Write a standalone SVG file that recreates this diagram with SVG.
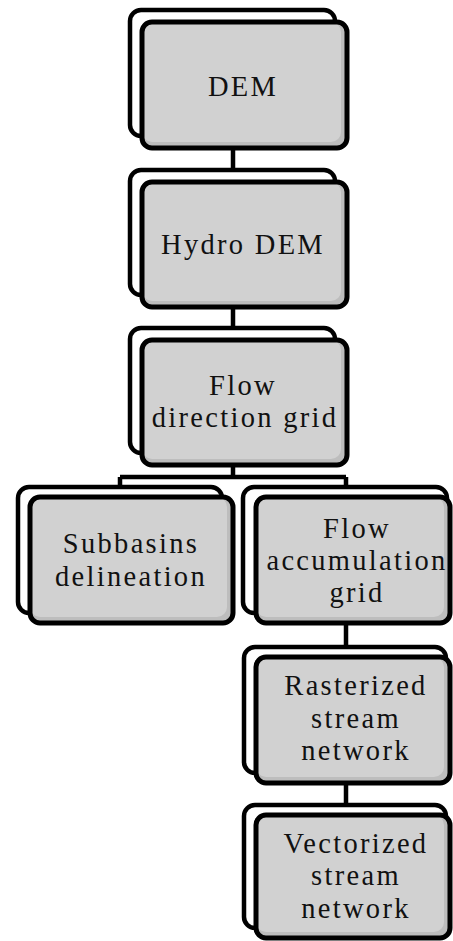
<svg xmlns="http://www.w3.org/2000/svg" width="453" height="941" viewBox="0 0 453 941">
  <style>
    .back { fill: #ffffff; stroke: #000000; stroke-width: 4.5; }
    .shade { fill: #bdbdbd; stroke: none; }
    .face { fill: #d1d1d1; stroke: none; }
    .frame { fill: none; stroke: #000000; stroke-width: 5; }
    .link { fill: none; stroke: #000000; stroke-width: 4.5; }
    text { font-family: "Liberation Serif", "Times New Roman", serif; font-size: 28.5px; fill: #111111; letter-spacing: 2.3px; text-anchor: middle; }
  </style>
  <rect width="453" height="941" fill="#ffffff"/>

  <g id="connectors">
    <path class="link" d="M233,148 V170 M233,307 V328 M233,465 V477 M120,477 H346 M120,477 V489 M346,477 V489 M346,623 V647 M346,783 V805"/>
  </g>

  <g id="dem">
    <rect class="back" x="130" y="10" width="205" height="126" rx="11"/>
    <rect class="shade" x="142" y="22" width="205" height="126" rx="10"/>
    <rect class="face" x="142" y="22" width="199" height="120" rx="10"/>
    <rect class="frame" x="142" y="22" width="205" height="126" rx="10"/>
    <text x="243" y="96">DEM</text>
  </g>

  <g id="hydro-dem">
    <rect class="back" x="130" y="170" width="205" height="125" rx="11"/>
    <rect class="shade" x="142" y="182" width="205" height="125" rx="10"/>
    <rect class="face" x="142" y="182" width="199" height="119" rx="10"/>
    <rect class="frame" x="142" y="182" width="205" height="125" rx="10"/>
    <text x="243" y="254">Hydro DEM</text>
  </g>

  <g id="flow-direction">
    <rect class="back" x="130" y="328" width="205" height="125" rx="11"/>
    <rect class="shade" x="142" y="340" width="205" height="125" rx="10"/>
    <rect class="face" x="142" y="340" width="199" height="119" rx="10"/>
    <rect class="frame" x="142" y="340" width="205" height="125" rx="10"/>
    <text x="243" y="395">Flow</text>
    <text x="245" y="427">direction grid</text>
  </g>

  <g id="subbasins">
    <rect class="back" x="18" y="487" width="204" height="126" rx="11"/>
    <rect class="shade" x="30" y="497" width="203" height="126" rx="10"/>
    <rect class="face" x="30" y="497" width="197" height="120" rx="10"/>
    <rect class="frame" x="30" y="497" width="203" height="126" rx="10"/>
    <text x="131" y="553">Subbasins</text>
    <text x="131" y="586">delineation</text>
  </g>

  <g id="flow-accumulation">
    <rect class="back" x="243" y="487" width="204" height="126" rx="11"/>
    <rect class="shade" x="256" y="497" width="194" height="126" rx="10"/>
    <rect class="face" x="256" y="497" width="188" height="120" rx="10"/>
    <rect class="frame" x="256" y="497" width="194" height="126" rx="10"/>
    <text x="357" y="538">Flow</text>
    <text x="357" y="570">accumulation</text>
    <text x="357" y="602">grid</text>
  </g>

  <g id="rasterized">
    <rect class="back" x="244" y="647" width="202" height="126" rx="11"/>
    <rect class="shade" x="256" y="657" width="194" height="126" rx="10"/>
    <rect class="face" x="256" y="657" width="188" height="120" rx="10"/>
    <rect class="frame" x="256" y="657" width="194" height="126" rx="10"/>
    <text x="356" y="695">Rasterized</text>
    <text x="356" y="728">stream</text>
    <text x="356" y="760">network</text>
  </g>

  <g id="vectorized">
    <rect class="back" x="244" y="805" width="202" height="123" rx="11"/>
    <rect class="shade" x="256" y="815" width="194" height="123" rx="10"/>
    <rect class="face" x="256" y="815" width="188" height="117" rx="10"/>
    <rect class="frame" x="256" y="815" width="194" height="123" rx="10"/>
    <text x="356" y="853">Vectorized</text>
    <text x="356" y="885">stream</text>
    <text x="356" y="918">network</text>
  </g>
</svg>
